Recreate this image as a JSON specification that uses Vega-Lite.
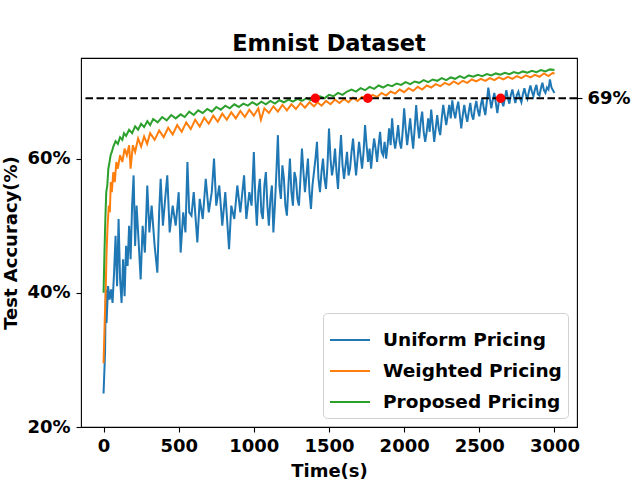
{
  "$schema": "https://vega.github.io/schema/vega-lite/v6.json",
  "width": 496,
  "height": 369,
  "autosize": {"type": "none"},
  "padding": {"left": 81, "top": 58, "right": 63, "bottom": 53},
  "background": "white",
  "title": {
    "text": "Emnist Dataset",
    "font": "DejaVu Sans",
    "fontSize": 22.5,
    "fontWeight": "bold",
    "color": "black",
    "anchor": "middle",
    "offset": 3
  },
  "config": {
    "font": "DejaVu Sans",
    "view": {"stroke": "black", "strokeWidth": 1.1},
    "axis": {
      "grid": false,
      "domain": false,
      "tickColor": "black",
      "tickSize": 5,
      "tickWidth": 1.1,
      "labelFont": "DejaVu Sans",
      "labelFontSize": 18,
      "labelFontWeight": "bold",
      "labelColor": "black",
      "titleFont": "DejaVu Sans",
      "titleFontSize": 18,
      "titleFontWeight": "bold",
      "titleColor": "black"
    },
    "legend": {
      "orient": "bottom-right",
      "offset": 9,
      "fillColor": "white",
      "strokeColor": "#d0d0d0",
      "cornerRadius": 4,
      "padding": 6,
      "symbolType": "stroke",
      "symbolSize": 1600,
      "symbolStrokeWidth": 2,
      "labelFont": "DejaVu Sans",
      "labelFontSize": 18.5,
      "labelFontWeight": "bold",
      "labelColor": "black",
      "labelOffset": 12,
      "labelLimit": 400,
      "rowPadding": -6
    }
  },
  "datasets": {
    "uniform": [
      {"t": 0, "acc": 25}, {"t": 10, "acc": 31}, {"t": 15, "acc": 40.5}, {"t": 20, "acc": 35.5}, {"t": 30, "acc": 41},
      {"t": 40, "acc": 39}, {"t": 50, "acc": 40.5}, {"t": 60, "acc": 38.5}, {"t": 70, "acc": 43}, {"t": 80, "acc": 48.5},
      {"t": 90, "acc": 41}, {"t": 100, "acc": 51}, {"t": 110, "acc": 42}, {"t": 120, "acc": 38.5}, {"t": 130, "acc": 45},
      {"t": 140, "acc": 39.5}, {"t": 150, "acc": 47}, {"t": 160, "acc": 44}, {"t": 170, "acc": 50}, {"t": 180, "acc": 45},
      {"t": 190, "acc": 53}, {"t": 200, "acc": 57.5}, {"t": 210, "acc": 47}, {"t": 220, "acc": 53}, {"t": 230, "acc": 49},
      {"t": 247, "acc": 42}, {"t": 260, "acc": 50}, {"t": 275, "acc": 46}, {"t": 291, "acc": 56}, {"t": 305, "acc": 49},
      {"t": 320, "acc": 53}, {"t": 340, "acc": 47}, {"t": 358, "acc": 43}, {"t": 370, "acc": 52}, {"t": 380, "acc": 57},
      {"t": 395, "acc": 50}, {"t": 410, "acc": 54}, {"t": 424, "acc": 57.5}, {"t": 440, "acc": 49}, {"t": 460, "acc": 53},
      {"t": 480, "acc": 50}, {"t": 500, "acc": 55}, {"t": 513, "acc": 46}, {"t": 530, "acc": 52}, {"t": 545, "acc": 49},
      {"t": 558, "acc": 59.5}, {"t": 570, "acc": 52}, {"t": 585, "acc": 51.5}, {"t": 600, "acc": 55}, {"t": 624, "acc": 47.5},
      {"t": 640, "acc": 54}, {"t": 660, "acc": 51}, {"t": 680, "acc": 57}, {"t": 700, "acc": 52}, {"t": 720, "acc": 55},
      {"t": 735, "acc": 60}, {"t": 750, "acc": 53}, {"t": 770, "acc": 56}, {"t": 790, "acc": 50}, {"t": 810, "acc": 55},
      {"t": 835, "acc": 46.5}, {"t": 850, "acc": 53}, {"t": 870, "acc": 51}, {"t": 890, "acc": 56}, {"t": 910, "acc": 52},
      {"t": 935, "acc": 57.5}, {"t": 950, "acc": 51}, {"t": 970, "acc": 55}, {"t": 985, "acc": 53}, {"t": 1000, "acc": 61},
      {"t": 1010, "acc": 54}, {"t": 1020, "acc": 50}, {"t": 1030, "acc": 55}, {"t": 1040, "acc": 57}, {"t": 1050, "acc": 52},
      {"t": 1060, "acc": 51}, {"t": 1070, "acc": 56}, {"t": 1080, "acc": 58}, {"t": 1090, "acc": 53}, {"t": 1100, "acc": 50},
      {"t": 1110, "acc": 54}, {"t": 1120, "acc": 56}, {"t": 1130, "acc": 49}, {"t": 1140, "acc": 53}, {"t": 1150, "acc": 58},
      {"t": 1160, "acc": 63.5}, {"t": 1170, "acc": 56}, {"t": 1180, "acc": 54}, {"t": 1190, "acc": 59}, {"t": 1200, "acc": 57},
      {"t": 1210, "acc": 53}, {"t": 1220, "acc": 51.5}, {"t": 1230, "acc": 56}, {"t": 1240, "acc": 60}, {"t": 1250, "acc": 55},
      {"t": 1260, "acc": 53}, {"t": 1270, "acc": 58}, {"t": 1280, "acc": 57}, {"t": 1290, "acc": 54}, {"t": 1300, "acc": 53},
      {"t": 1310, "acc": 57}, {"t": 1320, "acc": 61.5}, {"t": 1330, "acc": 58}, {"t": 1340, "acc": 55}, {"t": 1350, "acc": 57.5},
      {"t": 1360, "acc": 60}, {"t": 1370, "acc": 55}, {"t": 1380, "acc": 52.5}, {"t": 1390, "acc": 56}, {"t": 1400, "acc": 58},
      {"t": 1410, "acc": 60}, {"t": 1420, "acc": 62.5}, {"t": 1430, "acc": 57}, {"t": 1440, "acc": 55}, {"t": 1450, "acc": 58},
      {"t": 1460, "acc": 60}, {"t": 1470, "acc": 57}, {"t": 1480, "acc": 55.5}, {"t": 1490, "acc": 59}, {"t": 1500, "acc": 64.5},
      {"t": 1510, "acc": 60}, {"t": 1520, "acc": 57.5}, {"t": 1530, "acc": 59}, {"t": 1540, "acc": 61.5}, {"t": 1550, "acc": 58},
      {"t": 1560, "acc": 55.5}, {"t": 1570, "acc": 60}, {"t": 1580, "acc": 63.5}, {"t": 1590, "acc": 59}, {"t": 1600, "acc": 57},
      {"t": 1610, "acc": 59}, {"t": 1620, "acc": 61}, {"t": 1630, "acc": 57.5}, {"t": 1640, "acc": 58.5}, {"t": 1650, "acc": 61},
      {"t": 1660, "acc": 63}, {"t": 1670, "acc": 60}, {"t": 1680, "acc": 57.5}, {"t": 1690, "acc": 60}, {"t": 1700, "acc": 62.5},
      {"t": 1710, "acc": 60.5}, {"t": 1720, "acc": 58.5}, {"t": 1730, "acc": 61}, {"t": 1740, "acc": 65}, {"t": 1750, "acc": 62},
      {"t": 1760, "acc": 59.5}, {"t": 1770, "acc": 61.5}, {"t": 1780, "acc": 58.5}, {"t": 1790, "acc": 61}, {"t": 1800, "acc": 63},
      {"t": 1810, "acc": 61.5}, {"t": 1820, "acc": 59.5}, {"t": 1830, "acc": 62}, {"t": 1840, "acc": 64}, {"t": 1850, "acc": 61},
      {"t": 1860, "acc": 60.5}, {"t": 1870, "acc": 62.5}, {"t": 1880, "acc": 60}, {"t": 1890, "acc": 62}, {"t": 1900, "acc": 64.5},
      {"t": 1910, "acc": 62}, {"t": 1920, "acc": 66}, {"t": 1930, "acc": 63}, {"t": 1940, "acc": 61.5}, {"t": 1950, "acc": 63},
      {"t": 1960, "acc": 65}, {"t": 1970, "acc": 62.5}, {"t": 1980, "acc": 61.5}, {"t": 1990, "acc": 64}, {"t": 2000, "acc": 67.5},
      {"t": 2010, "acc": 64.5}, {"t": 2020, "acc": 62}, {"t": 2030, "acc": 64}, {"t": 2040, "acc": 66}, {"t": 2050, "acc": 63.5},
      {"t": 2060, "acc": 61.5}, {"t": 2070, "acc": 64.5}, {"t": 2080, "acc": 68}, {"t": 2090, "acc": 65}, {"t": 2100, "acc": 63},
      {"t": 2110, "acc": 65.5}, {"t": 2120, "acc": 67}, {"t": 2130, "acc": 64}, {"t": 2140, "acc": 62.5}, {"t": 2150, "acc": 64},
      {"t": 2160, "acc": 66}, {"t": 2170, "acc": 64}, {"t": 2180, "acc": 67.3}, {"t": 2190, "acc": 65}, {"t": 2200, "acc": 62.5},
      {"t": 2210, "acc": 64.5}, {"t": 2220, "acc": 66.5}, {"t": 2230, "acc": 64.5}, {"t": 2240, "acc": 63.5}, {"t": 2250, "acc": 66},
      {"t": 2260, "acc": 68}, {"t": 2270, "acc": 66.5}, {"t": 2280, "acc": 65}, {"t": 2290, "acc": 66.5}, {"t": 2300, "acc": 68},
      {"t": 2310, "acc": 66}, {"t": 2320, "acc": 68.7}, {"t": 2330, "acc": 67}, {"t": 2340, "acc": 66}, {"t": 2350, "acc": 67.5},
      {"t": 2360, "acc": 68.5}, {"t": 2370, "acc": 66.5}, {"t": 2380, "acc": 64.5}, {"t": 2390, "acc": 66.5}, {"t": 2400, "acc": 68},
      {"t": 2410, "acc": 66.5}, {"t": 2420, "acc": 65.5}, {"t": 2430, "acc": 67}, {"t": 2440, "acc": 68.3}, {"t": 2450, "acc": 66.5},
      {"t": 2460, "acc": 65.8}, {"t": 2470, "acc": 67.5}, {"t": 2480, "acc": 68.6}, {"t": 2490, "acc": 67.2}, {"t": 2500, "acc": 66.3},
      {"t": 2510, "acc": 68}, {"t": 2520, "acc": 69}, {"t": 2530, "acc": 67.5}, {"t": 2540, "acc": 66.5}, {"t": 2550, "acc": 68.5},
      {"t": 2560, "acc": 70.6}, {"t": 2570, "acc": 69}, {"t": 2580, "acc": 67.5}, {"t": 2590, "acc": 68.8}, {"t": 2600, "acc": 69.8},
      {"t": 2610, "acc": 68.3}, {"t": 2620, "acc": 66.8}, {"t": 2630, "acc": 68.5}, {"t": 2640, "acc": 69.5}, {"t": 2650, "acc": 68.5},
      {"t": 2660, "acc": 67.8}, {"t": 2670, "acc": 69}, {"t": 2680, "acc": 70.2}, {"t": 2690, "acc": 69}, {"t": 2700, "acc": 68.2},
      {"t": 2710, "acc": 69.5}, {"t": 2720, "acc": 70.3}, {"t": 2730, "acc": 69.2}, {"t": 2740, "acc": 68.3}, {"t": 2750, "acc": 69.5},
      {"t": 2760, "acc": 70}, {"t": 2770, "acc": 69}, {"t": 2780, "acc": 68.4}, {"t": 2790, "acc": 69.6}, {"t": 2800, "acc": 70.5},
      {"t": 2810, "acc": 69.5}, {"t": 2820, "acc": 68.9}, {"t": 2830, "acc": 70}, {"t": 2840, "acc": 70.9}, {"t": 2850, "acc": 70},
      {"t": 2860, "acc": 69.3}, {"t": 2870, "acc": 70.3}, {"t": 2880, "acc": 71}, {"t": 2890, "acc": 69.6}, {"t": 2900, "acc": 69.4},
      {"t": 2910, "acc": 70.5}, {"t": 2920, "acc": 71.3}, {"t": 2930, "acc": 70.2}, {"t": 2940, "acc": 69.8}, {"t": 2950, "acc": 70.6},
      {"t": 2960, "acc": 70.3}, {"t": 2970, "acc": 71.8}, {"t": 2980, "acc": 70.6}, {"t": 2990, "acc": 70.2}, {"t": 3000, "acc": 69.8}
    ],
    "weighted": [
      {"t": 0, "acc": 29.5}, {"t": 8, "acc": 36}, {"t": 14, "acc": 40}, {"t": 20, "acc": 46}, {"t": 27, "acc": 50},
      {"t": 35, "acc": 53}, {"t": 42, "acc": 52}, {"t": 48, "acc": 56.5}, {"t": 55, "acc": 55}, {"t": 65, "acc": 58},
      {"t": 75, "acc": 56.5}, {"t": 85, "acc": 59.5}, {"t": 95, "acc": 58.5}, {"t": 110, "acc": 60.5}, {"t": 125, "acc": 59.5},
      {"t": 140, "acc": 61.5}, {"t": 155, "acc": 60.5}, {"t": 170, "acc": 62}, {"t": 180, "acc": 58.5}, {"t": 195, "acc": 62},
      {"t": 210, "acc": 61}, {"t": 230, "acc": 63}, {"t": 250, "acc": 61.8}, {"t": 270, "acc": 63.3}, {"t": 290, "acc": 62.2},
      {"t": 310, "acc": 63.8}, {"t": 340, "acc": 62.8}, {"t": 370, "acc": 64.2}, {"t": 400, "acc": 63.2}, {"t": 430, "acc": 64.6},
      {"t": 460, "acc": 63.6}, {"t": 490, "acc": 65}, {"t": 520, "acc": 64}, {"t": 550, "acc": 65.4}, {"t": 580, "acc": 64.4},
      {"t": 610, "acc": 65.8}, {"t": 640, "acc": 64.8}, {"t": 670, "acc": 66.1}, {"t": 700, "acc": 65.2}, {"t": 730, "acc": 66.4},
      {"t": 760, "acc": 65.5}, {"t": 790, "acc": 66.7}, {"t": 820, "acc": 65.8}, {"t": 850, "acc": 66.9}, {"t": 880, "acc": 66},
      {"t": 910, "acc": 67.1}, {"t": 940, "acc": 66.2}, {"t": 970, "acc": 67.3}, {"t": 1000, "acc": 66.4}, {"t": 1030, "acc": 67.5},
      {"t": 1047, "acc": 65.8}, {"t": 1070, "acc": 67.5}, {"t": 1100, "acc": 66.8}, {"t": 1130, "acc": 67.8}, {"t": 1160, "acc": 67},
      {"t": 1190, "acc": 68}, {"t": 1220, "acc": 67.2}, {"t": 1250, "acc": 68.1}, {"t": 1280, "acc": 67.4}, {"t": 1310, "acc": 68.3},
      {"t": 1340, "acc": 67.6}, {"t": 1370, "acc": 68.4}, {"t": 1400, "acc": 67.8}, {"t": 1424, "acc": 68.4}, {"t": 1450, "acc": 67.9},
      {"t": 1480, "acc": 68.6}, {"t": 1510, "acc": 68.1}, {"t": 1540, "acc": 68.8}, {"t": 1570, "acc": 68.3}, {"t": 1600, "acc": 68.9},
      {"t": 1630, "acc": 68.4}, {"t": 1660, "acc": 69.1}, {"t": 1690, "acc": 68.6}, {"t": 1720, "acc": 69.2}, {"t": 1758, "acc": 69},
      {"t": 1790, "acc": 69.5}, {"t": 1820, "acc": 69.2}, {"t": 1850, "acc": 69.8}, {"t": 1880, "acc": 69.4}, {"t": 1910, "acc": 70},
      {"t": 1940, "acc": 69.7}, {"t": 1970, "acc": 70.3}, {"t": 2000, "acc": 69.9}, {"t": 2030, "acc": 70.5}, {"t": 2060, "acc": 70.1},
      {"t": 2090, "acc": 70.7}, {"t": 2120, "acc": 70.3}, {"t": 2150, "acc": 70.9}, {"t": 2180, "acc": 70.6}, {"t": 2210, "acc": 71.1},
      {"t": 2240, "acc": 70.8}, {"t": 2270, "acc": 71.3}, {"t": 2300, "acc": 71}, {"t": 2330, "acc": 71.5}, {"t": 2360, "acc": 71.1},
      {"t": 2390, "acc": 71.6}, {"t": 2420, "acc": 71.3}, {"t": 2450, "acc": 71.8}, {"t": 2480, "acc": 71.5}, {"t": 2510, "acc": 71.9},
      {"t": 2540, "acc": 71.6}, {"t": 2570, "acc": 72}, {"t": 2600, "acc": 71.7}, {"t": 2630, "acc": 72.1}, {"t": 2660, "acc": 71.8},
      {"t": 2690, "acc": 72.2}, {"t": 2720, "acc": 71.9}, {"t": 2750, "acc": 72.3}, {"t": 2780, "acc": 72}, {"t": 2810, "acc": 72.4},
      {"t": 2840, "acc": 72.1}, {"t": 2870, "acc": 72.5}, {"t": 2900, "acc": 72.2}, {"t": 2930, "acc": 72.7}, {"t": 2960, "acc": 72.3},
      {"t": 2990, "acc": 72.8}, {"t": 3000, "acc": 72.6}
    ],
    "proposed": [
      {"t": 0, "acc": 40}, {"t": 6, "acc": 46}, {"t": 12, "acc": 51}, {"t": 18, "acc": 55}, {"t": 25, "acc": 56},
      {"t": 32, "acc": 58.5}, {"t": 40, "acc": 59.5}, {"t": 47, "acc": 60.5}, {"t": 55, "acc": 61}, {"t": 65, "acc": 61.8},
      {"t": 80, "acc": 62.6}, {"t": 95, "acc": 62.2}, {"t": 110, "acc": 63.2}, {"t": 125, "acc": 62.8}, {"t": 136, "acc": 63.8},
      {"t": 150, "acc": 63.4}, {"t": 170, "acc": 64.3}, {"t": 190, "acc": 63.8}, {"t": 210, "acc": 64.8}, {"t": 230, "acc": 64.3},
      {"t": 250, "acc": 65.2}, {"t": 270, "acc": 64.7}, {"t": 291, "acc": 65.6}, {"t": 310, "acc": 65}, {"t": 330, "acc": 65.9},
      {"t": 360, "acc": 65.4}, {"t": 390, "acc": 66.2}, {"t": 420, "acc": 65.7}, {"t": 450, "acc": 66.5}, {"t": 480, "acc": 66},
      {"t": 513, "acc": 66.6}, {"t": 540, "acc": 66.2}, {"t": 570, "acc": 67}, {"t": 600, "acc": 66.5}, {"t": 630, "acc": 67.2},
      {"t": 660, "acc": 66.8}, {"t": 690, "acc": 67.4}, {"t": 720, "acc": 67}, {"t": 750, "acc": 67.7}, {"t": 780, "acc": 67.3},
      {"t": 810, "acc": 67.9}, {"t": 840, "acc": 67.5}, {"t": 870, "acc": 68.1}, {"t": 900, "acc": 67.7}, {"t": 930, "acc": 68.2},
      {"t": 960, "acc": 67.9}, {"t": 990, "acc": 68.4}, {"t": 1020, "acc": 68}, {"t": 1050, "acc": 68.5}, {"t": 1080, "acc": 68.1},
      {"t": 1110, "acc": 68.6}, {"t": 1140, "acc": 68.2}, {"t": 1170, "acc": 68.7}, {"t": 1200, "acc": 68.4}, {"t": 1230, "acc": 68.8},
      {"t": 1260, "acc": 68.5}, {"t": 1290, "acc": 68.9}, {"t": 1320, "acc": 68.6}, {"t": 1350, "acc": 69}, {"t": 1380, "acc": 68.7},
      {"t": 1409, "acc": 69}, {"t": 1440, "acc": 69.3}, {"t": 1470, "acc": 69}, {"t": 1500, "acc": 69.5}, {"t": 1530, "acc": 69.3},
      {"t": 1560, "acc": 69.8}, {"t": 1590, "acc": 69.5}, {"t": 1620, "acc": 70}, {"t": 1650, "acc": 70.3}, {"t": 1680, "acc": 70},
      {"t": 1710, "acc": 70.5}, {"t": 1740, "acc": 70.2}, {"t": 1770, "acc": 70.7}, {"t": 1800, "acc": 70.4}, {"t": 1830, "acc": 70.9},
      {"t": 1860, "acc": 70.6}, {"t": 1890, "acc": 71}, {"t": 1920, "acc": 70.8}, {"t": 1950, "acc": 71.2}, {"t": 1980, "acc": 71},
      {"t": 2010, "acc": 71.4}, {"t": 2040, "acc": 71.1}, {"t": 2070, "acc": 71.5}, {"t": 2100, "acc": 71.3}, {"t": 2130, "acc": 71.7},
      {"t": 2160, "acc": 71.4}, {"t": 2190, "acc": 71.8}, {"t": 2220, "acc": 71.6}, {"t": 2250, "acc": 72}, {"t": 2280, "acc": 71.7},
      {"t": 2310, "acc": 72.1}, {"t": 2340, "acc": 71.9}, {"t": 2370, "acc": 72.3}, {"t": 2400, "acc": 72}, {"t": 2430, "acc": 72.4},
      {"t": 2460, "acc": 72.2}, {"t": 2490, "acc": 72.5}, {"t": 2520, "acc": 72.3}, {"t": 2550, "acc": 72.6}, {"t": 2580, "acc": 72.4},
      {"t": 2610, "acc": 72.7}, {"t": 2640, "acc": 72.5}, {"t": 2670, "acc": 72.8}, {"t": 2700, "acc": 72.6}, {"t": 2730, "acc": 72.9},
      {"t": 2760, "acc": 72.7}, {"t": 2790, "acc": 73}, {"t": 2820, "acc": 72.8}, {"t": 2850, "acc": 73.1}, {"t": 2880, "acc": 72.9},
      {"t": 2910, "acc": 73.2}, {"t": 2940, "acc": 73}, {"t": 2970, "acc": 73.3}, {"t": 3000, "acc": 73.2}
    ],
    "hits": [
      {"t": 1409, "acc": 69}, {"t": 1758, "acc": 69}, {"t": 2642, "acc": 69}
    ]
  },
  "layer": [
    {
      "data": {"name": "uniform"},
      "mark": {"type": "line", "strokeWidth": 2},
      "encoding": {
        "x": {
          "field": "t", "type": "quantitative",
          "scale": {"domain": [-150, 3150], "nice": false, "zero": false},
          "axis": {"values": [0, 500, 1000, 1500, 2000, 2500, 3000], "format": "d", "title": "Time(s)", "labelPadding": 5, "titlePadding": 7}
        },
        "y": {
          "field": "acc", "type": "quantitative",
          "scale": {"domain": [20, 75], "nice": false, "zero": false},
          "axis": {"values": [20, 40, 60], "labelExpr": "datum.value + '%'", "title": "Test Accuracy(%)", "labelPadding": 6, "titlePadding": 6}
        },
        "color": {
          "datum": "Uniform Pricing",
          "scale": {"domain": ["Uniform Pricing", "Weighted Pricing", "Proposed Pricing"], "range": ["#1f77b4", "#ff7f0e", "#2ca02c"]},
          "legend": {"title": null}
        }
      }
    },
    {
      "data": {"name": "weighted"},
      "mark": {"type": "line", "strokeWidth": 2},
      "encoding": {
        "x": {"field": "t", "type": "quantitative"},
        "y": {"field": "acc", "type": "quantitative", "axis": null},
        "color": {"datum": "Weighted Pricing"}
      }
    },
    {
      "data": {"name": "proposed"},
      "mark": {"type": "line", "strokeWidth": 2},
      "encoding": {
        "x": {"field": "t", "type": "quantitative"},
        "y": {"field": "acc", "type": "quantitative", "axis": null},
        "color": {"datum": "Proposed Pricing"}
      }
    },
    {
      "data": {"values": [{}]},
      "mark": {"type": "rule", "color": "black", "strokeWidth": 2, "strokeDash": [7.5, 3.5]},
      "encoding": {
        "y": {
          "datum": 69, "type": "quantitative",
          "axis": {"orient": "right", "values": [69], "labelExpr": "datum.value + '%'", "title": null, "labelPadding": 5}
        }
      }
    },
    {
      "data": {"name": "hits"},
      "mark": {"type": "point", "filled": true, "color": "red", "size": 90, "opacity": 1},
      "encoding": {
        "x": {"field": "t", "type": "quantitative"},
        "y": {"field": "acc", "type": "quantitative", "axis": null}
      }
    }
  ],
  "resolve": {"axis": {"y": "independent"}}
}
